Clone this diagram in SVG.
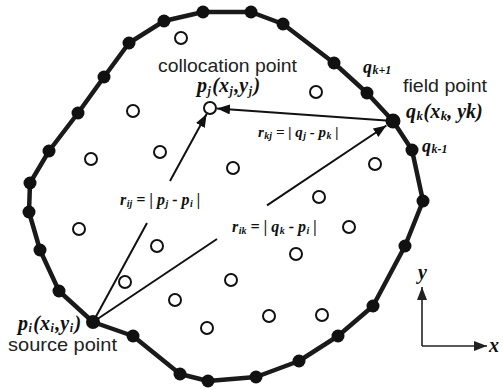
<svg xmlns="http://www.w3.org/2000/svg" width="503" height="390" viewBox="0 0 503 390">
<style>
.bd{fill:none;stroke:#1a1a1a;stroke-width:4.5;stroke-linejoin:round}
.bn{fill:#111}
.ip{fill:#fff;stroke:#111;stroke-width:2}
.ln{stroke:#111;stroke-width:2;fill:none}
.ax{stroke:#222;stroke-width:1.6;fill:none}
.sans{font-family:"Liberation Sans",Arial,sans-serif;font-size:19px;fill:#222}
.m{font-family:"Liberation Serif","Times New Roman",serif;font-style:italic;font-weight:bold;fill:#111}
.s{font-size:12px}
</style>
<defs>
<marker id="ah" markerUnits="userSpaceOnUse" markerWidth="14" markerHeight="10" refX="13" refY="5" orient="auto">
<path d="M0,0 L13,5 L0,10 z" fill="#111"/>
</marker>
<marker id="ah2" markerUnits="userSpaceOnUse" markerWidth="14" markerHeight="10" refX="13" refY="5" orient="auto">
<path d="M0,0 L13,5 L0,10 z" fill="#222"/>
</marker>
</defs>
<g id="boundary">
<path class="bd" d="M93,322 L59,291 L40,250 L29,212 L30,183 L49,151 L78,113 L104,77 L129,43 L164,21 L203,12 L251,12 L283,24 L334,63 L367,93 L393,121 L412,150 L423,201 L405,246 L373,306 L338,336 L299,361 L256,377 L208,381 L180,374 L133,336 Z"/>
<g class="bn">
<circle cx="59" cy="291" r="6.5"/><circle cx="40" cy="250" r="6.5"/><circle cx="29" cy="212" r="6.5"/><circle cx="30" cy="183" r="6.5"/><circle cx="49" cy="151" r="6.5"/><circle cx="78" cy="113" r="6.5"/><circle cx="104" cy="77" r="6.5"/><circle cx="129" cy="43" r="6.5"/><circle cx="164" cy="21" r="6.5"/><circle cx="203" cy="12" r="6.5"/><circle cx="251" cy="12" r="6.5"/><circle cx="283" cy="24" r="6.5"/><circle cx="334" cy="63" r="6.5"/><circle cx="423" cy="201" r="6.5"/><circle cx="405" cy="246" r="6.5"/><circle cx="373" cy="306" r="6.5"/><circle cx="338" cy="336" r="6.5"/><circle cx="299" cy="361" r="6.5"/><circle cx="256" cy="377" r="6.5"/><circle cx="208" cy="381" r="6.5"/><circle cx="180" cy="374" r="6.5"/><circle cx="133" cy="336" r="6.5"/>
</g>
</g>
<g id="interior">
<circle class="ip" cx="181" cy="38" r="6"/><circle class="ip" cx="133" cy="111" r="6"/><circle class="ip" cx="316" cy="92" r="6"/><circle class="ip" cx="160" cy="152" r="6"/><circle class="ip" cx="91" cy="159" r="6"/><circle class="ip" cx="233" cy="168" r="6"/><circle class="ip" cx="375" cy="164" r="6"/><circle class="ip" cx="319" cy="197" r="6"/><circle class="ip" cx="79" cy="229" r="6"/><circle class="ip" cx="157" cy="246" r="6"/><circle class="ip" cx="349" cy="227" r="6"/><circle class="ip" cx="296" cy="254" r="6"/><circle class="ip" cx="125" cy="282" r="6"/><circle class="ip" cx="231" cy="280" r="6"/><circle class="ip" cx="175" cy="300" r="6"/><circle class="ip" cx="269" cy="316" r="6"/><circle class="ip" cx="322" cy="315" r="6"/><circle class="ip" cx="207" cy="328" r="6"/>
</g>
<g id="connectors">
<line class="ln" x1="93" y1="322" x2="147" y2="223"/>
<line class="ln" x1="170" y1="181" x2="206.6" y2="114.1" marker-end="url(#ah)"/>
<line class="ln" x1="93" y1="322" x2="217" y2="239"/>
<line class="ln" x1="267" y1="205.4" x2="386.4" y2="125.5" marker-end="url(#ah)"/>
<line class="ln" x1="393" y1="121" x2="217" y2="108.5" marker-end="url(#ah)"/>
<line class="ax" x1="422" y1="346" x2="422" y2="287" marker-end="url(#ah2)"/>
<line class="ax" x1="422" y1="346" x2="487" y2="346" marker-end="url(#ah2)"/>
</g>
<g id="pj">
<circle class="ip" cx="210" cy="108" r="6"/>
<text class="sans" x="158" y="72" textLength="139" lengthAdjust="spacingAndGlyphs">collocation point</text>
<text class="m" x="197" y="92" font-size="20">p<tspan class="s" dy="3" dx="0.5">j</tspan><tspan dy="-3" dx="1.5">(x</tspan><tspan class="s" dy="3" dx="0.5">j</tspan><tspan dy="-3" dx="1.5">,y</tspan><tspan class="s" dy="3" dx="0.5">j</tspan><tspan dy="-3" dx="1.5">)</tspan></text>
</g>
<g id="pi">
<circle class="bn" cx="93" cy="322" r="7"/>
<text class="m" x="18" y="330" font-size="20">p<tspan class="s" dy="2" dx="0.5">i</tspan><tspan dy="-2" dx="1.5">(x</tspan><tspan class="s" dy="2" dx="0.5">i</tspan><tspan dy="-2" dx="1.5">,y</tspan><tspan class="s" dy="2" dx="0.5">i</tspan><tspan dy="-2" dx="1.5">)</tspan></text>
<text class="sans" x="8" y="351" textLength="109" lengthAdjust="spacingAndGlyphs">source point</text>
</g>
<g id="qk">
<circle class="bn" cx="393" cy="121" r="7.5"/>
<text class="sans" x="403" y="92" textLength="84" lengthAdjust="spacingAndGlyphs">field point</text>
<text class="m" x="406" y="118" font-size="20">q<tspan font-size="13" dy="2" dx="0.5">k</tspan><tspan dy="-2" dx="0.5">(x</tspan><tspan font-size="13" dy="2" dx="0.5">k</tspan><tspan dy="-2">, yk)</tspan></text>
</g>
<g id="qk1">
<circle class="bn" cx="367" cy="93" r="6.5"/>
<text class="m" x="363" y="73" font-size="18">q<tspan font-size="12" dy="1" dx="0.5">k+1</tspan></text>
</g>
<g id="qkm1">
<circle class="bn" cx="412" cy="150" r="6.5"/>
<text class="m" x="422" y="152" font-size="18">q<tspan font-size="12" dy="1" dx="0.5">k-1</tspan></text>
</g>
<g id="labels">
<text class="m" x="120" y="205" font-size="16">r<tspan font-size="10" dy="2" dx="0.5">ij</tspan><tspan dy="-2"> = | p</tspan><tspan font-size="10" dy="2" dx="0.5">j</tspan><tspan dy="-2"> - p</tspan><tspan font-size="10" dy="2" dx="0.5">i</tspan><tspan dy="-2"> |</tspan></text>
<text class="m" x="232" y="232" font-size="16">r<tspan font-size="10" dy="2" dx="0.5">ik</tspan><tspan dy="-2"> = | q</tspan><tspan font-size="10" dy="2" dx="0.5">k</tspan><tspan dy="-2"> - p</tspan><tspan font-size="10" dy="2" dx="0.5">i</tspan><tspan dy="-2"> |</tspan></text>
<text class="m" x="258" y="137" font-size="15">r<tspan font-size="10" dy="2" dx="0.5">kj</tspan><tspan dy="-2"> = | q</tspan><tspan font-size="10" dy="2" dx="0.5">j</tspan><tspan dy="-2"> - p</tspan><tspan font-size="10" dy="2" dx="0.5">k</tspan><tspan dy="-2"> |</tspan></text>
<text class="m" x="418" y="279" font-size="20">y</text>
<text class="m" x="489" y="352" font-size="20">x</text>
</g>
</svg>
